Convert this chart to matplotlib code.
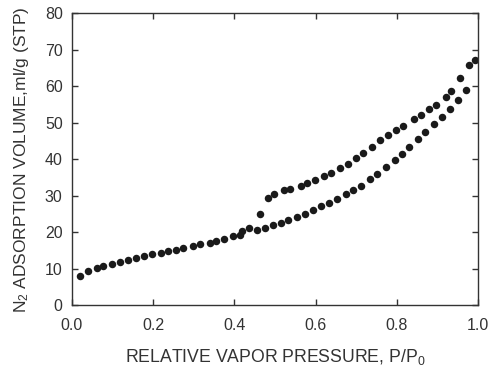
import matplotlib
matplotlib.use("Agg")
import matplotlib.pyplot as plt

plt.rcParams['font.family'] = ['Liberation Sans', 'DejaVu Sans']
plt.rcParams['mathtext.default'] = 'regular'

# Adsorption branch (P/P0, volume)
ads_p = [0.0205, 0.041, 0.0615, 0.098, 0.139, 0.179, 0.219, 0.257, 0.298, 0.339,
         0.375, 0.414, 0.455, 0.475, 0.496, 0.514, 0.533, 0.555, 0.575, 0.594,
         0.614, 0.634, 0.653, 0.674, 0.693, 0.712, 0.733, 0.752, 0.773, 0.795,
         0.813, 0.830, 0.852, 0.870, 0.891, 0.911, 0.930, 0.951, 0.970, 0.992]
ads_v = [8.1, 9.4, 10.2, 11.3, 12.5, 13.4, 14.4, 15.3, 16.3, 17.2,
         18.3, 19.4, 20.6, 21.2, 21.9, 22.7, 23.4, 24.3, 25.1, 26.0,
         27.1, 28.1, 29.2, 30.4, 31.5, 32.8, 34.5, 36.0, 37.8, 39.8,
         41.6, 43.4, 45.6, 47.5, 49.8, 51.6, 53.9, 56.2, 59.1, 67.2]

# Desorption branch (P/P0, volume)
des_p = [0.978, 0.955, 0.934, 0.920, 0.895, 0.879, 0.859, 0.841, 0.814, 0.798,
         0.778, 0.758, 0.738, 0.716, 0.699, 0.679, 0.660, 0.638, 0.620, 0.599,
         0.578, 0.563, 0.538, 0.523, 0.498, 0.484, 0.463, 0.437, 0.420, 0.396,
         0.355, 0.316, 0.275, 0.236, 0.198, 0.158, 0.119, 0.078]
des_v = [65.8, 62.2, 58.8, 57.2, 54.9, 53.7, 52.2, 51.0, 49.1, 48.1,
         46.7, 45.2, 43.3, 41.7, 40.3, 38.8, 37.6, 36.2, 35.4, 34.4,
         33.4, 32.8, 31.9, 31.5, 30.6, 29.3, 25.1, 21.3, 20.5, 19.1,
         17.7, 16.7, 15.8, 14.9, 14.0, 13.0, 12.0, 10.8]

xticks = [0.0, 0.2, 0.4, 0.6, 0.8, 1.0]
yticks = [0, 10, 20, 30, 40, 50, 60, 70, 80]

fig = plt.figure(figsize=(4.91, 3.68), dpi=100)
ax = fig.add_axes([0.146, 0.170, 0.828, 0.794])

dot = '#1a1a1a'
ax.plot(ads_p, ads_v, 'o', color=dot, markersize=5.4, markeredgewidth=0)
ax.plot(des_p, des_v, 'o', color=dot, markersize=5.4, markeredgewidth=0)

ax.set_xlim(0, 1.0)
ax.set_ylim(0, 80)
ax.set_xticks(xticks)
ax.set_xticklabels([f'{t:.1f}' for t in xticks])
ax.set_yticks(yticks)
ax.set_yticklabels([str(t) for t in yticks])
ax.tick_params(direction='in', length=4, width=1, top=True, right=True,
               labelsize=11.5, colors='#333333')
ax.tick_params(axis='x', pad=9)
ax.tick_params(axis='y', pad=6.5)
for s in ax.spines.values():
    s.set_color('#333333')
    s.set_linewidth(1)

ax.set_xlabel('RELATIVE VAPOR PRESSURE, P/P$_0$', fontsize=12.7, color='#333333', labelpad=10)
ax.set_ylabel('N$_2$ ADSORPTION VOLUME,ml/g (STP)', fontsize=12.5, color='#333333', labelpad=10)

fig.savefig('out.png', dpi=100)
